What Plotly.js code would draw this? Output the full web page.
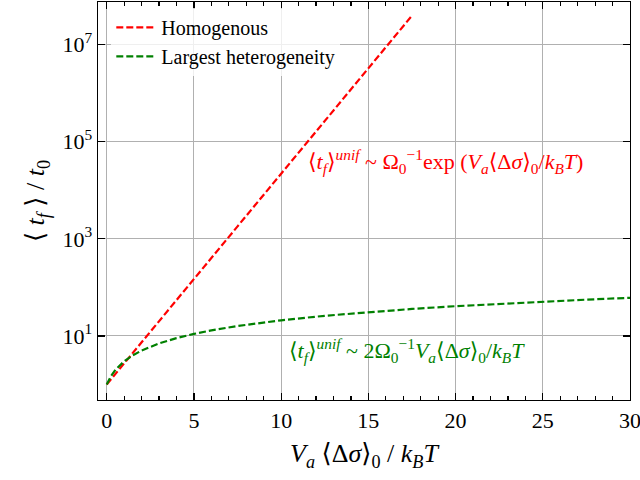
<!DOCTYPE html>
<html><head><meta charset="utf-8">
<script src="https://cdn.plot.ly/plotly-3.0.1.min.js"></script>
<style>body{margin:0;background:#fff}#c{width:640px;height:480px}</style>
</head><body><div id="c"></div>
<script>
const homX = [0, 1, 2.5, 5, 7.5, 10, 12.5, 15, 17.5];
const homY = [1, 2.7, 12.2, 148, 1810, 22000, 268000, 3.27e6, 3.98e7];
const hetX = [0, 0.25, 0.5, 1, 1.5, 2, 3, 4, 5, 6, 7.5, 10, 12.5, 15, 17.5, 20, 22.5, 25, 27.5, 30];
const hetY = [1, 1.5, 2, 3, 4, 5, 7, 9, 11, 13, 16, 21, 26, 31, 36, 41, 46, 51, 56, 61];
const xTicks = [0, 5, 10, 15, 20, 25, 30];
const yTicks = [10, 1000, 1e5, 1e7];
const yTickText = ['10<sup>1</sup>', '10<sup>3</sup>', '10<sup>5</sup>', '10<sup>7</sup>'];
const seriesNames = ['Homogenous', 'Largest heterogeneity'];

const font2 = '"Liberation Serif", "DejaVu Serif", serif';
const traces = [
  {x: homX, y: homY, name: seriesNames[0], mode: 'lines', line: {color: '#ff0000', width: 2.2, dash: '7px,3px'}},
  {x: hetX, y: hetY, name: seriesNames[1], mode: 'lines', line: {color: '#008000', width: 2.2, dash: '7px,3px'}}
];
const axisCommon = {
  showline: true, linecolor: '#000', linewidth: 1.3, mirror: 'ticks',
  ticks: 'inside', ticklen: 7, tickwidth: 1.2, tickcolor: '#000',
  showgrid: true, gridcolor: '#b0b0b0', gridwidth: 1, zeroline: false,
  ticklabeloverflow: 'allow'
};
const layout = {
  width: 640, height: 480,
  margin: {l: 98, r: 10, t: 2, b: 80},
  paper_bgcolor: '#fff', plot_bgcolor: '#fff',
  font: {family: font2, color: '#000', size: 22},
  showlegend: true,
  legend: {x: 0.025, y: 0.985, xanchor: 'left', yanchor: 'top', bgcolor: 'rgba(255,255,255,0.8)',
           font: {family: font2, size: 20}, tracegroupgap: 0, itemwidth: 40},
  xaxis: Object.assign({}, axisCommon, {
    range: [-0.5, 30], tickvals: xTicks,
    minor: {ticks: 'inside', dtick: 1, ticklen: 4, tickcolor: '#000', showgrid: false},
    title: {text: '<i>V<sub>a</sub></i> ⟨Δ<i>σ</i>⟩<sub>0</sub> / <i>k<sub>B</sub>T</i>', font: {family: font2, size: 26}, standoff: 12}
  }),
  yaxis: Object.assign({}, axisCommon, {
    type: 'log', range: [-0.32, 7.88], tickvals: yTicks, ticktext: yTickText,
    title: {text: '⟨ <i>t<sub>f</sub></i> ⟩ / <i>t</i><sub>0</sub>', font: {family: font2, size: 26}, standoff: 10}
  }),
  annotations: [
    {x: 19.4, y: 4.59, xref: 'x', yref: 'y', showarrow: false,
     text: '⟨<i>t<sub>f</sub></i>⟩<sup><i>unif</i></sup> ~ Ω<sub>0</sub><sup>−1</sup>exp (<i>V<sub>a</sub></i>⟨Δ<i>σ</i>⟩<sub>0</sub>/<i>k<sub>B</sub>T</i>)',
     font: {family: font2, size: 22, color: '#ff0000'}},
    {x: 17.2, y: 0.70, xref: 'x', yref: 'y', showarrow: false,
     text: '⟨<i>t<sub>f</sub></i>⟩<sup><i>unif</i></sup> ~ 2Ω<sub>0</sub><sup>−1</sup><i>V<sub>a</sub></i>⟨Δ<i>σ</i>⟩<sub>0</sub>/<i>k<sub>B</sub>T</i>',
     font: {family: font2, size: 22, color: '#008000'}}
  ]
};
Plotly.newPlot('c', traces, layout, {displayModeBar: false, staticPlot: true});
</script></body></html>
